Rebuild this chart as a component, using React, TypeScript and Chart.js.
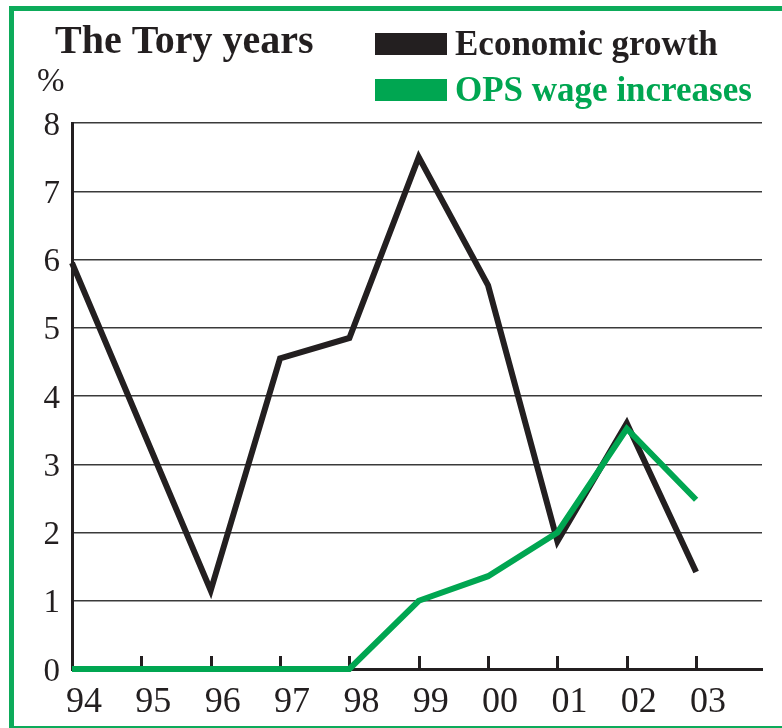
import React, { useEffect, useRef } from "react";
import { Chart, registerables } from "chart.js";

Chart.register(...registerables);

// ---- data ----
const years = ["94", "95", "96", "97", "98", "99", "00", "01", "02", "03"];
const economicGrowth = [5.95, 3.55, 1.15, 4.55, 4.85, 7.5, 5.62, 1.87, 3.6, 1.42];
const opsWageIncreases = [0, 0, 0, 0, 0, 1.0, 1.36, 2.0, 3.52, 2.48];
const yMin = 0;
const yMax = 8;
const titleText = "The Tory years";
const unitLabel = "%";
const seriesNames = ["Economic growth", "OPS wage increases"];

// ---- styles ----
const DARK = "#231f20";
const GREEN = "#00a651";
const SERIF = "'Liberation Serif', 'Times New Roman', serif";

const decorPlugin = {
  id: "decor",
  beforeDatasetsDraw(chart: any) {
    const ctx = chart.ctx;
    const xs = chart.scales.x;
    const area = chart.chartArea;
    ctx.save();
    ctx.strokeStyle = DARK;
    ctx.lineWidth = 3;
    years.forEach((_, i) => {
      if (i === 0) return;
      const px = Math.round(xs.getPixelForValue(i)) + 0.5;
      ctx.beginPath();
      ctx.moveTo(px, area.bottom);
      ctx.lineTo(px, area.bottom - 13);
      ctx.stroke();
    });
    ctx.restore();
  },
  afterDraw(chart: any) {
    const ctx = chart.ctx;
    ctx.save();
    ctx.textAlign = "left";
    ctx.textBaseline = "alphabetic";
    // title
    ctx.fillStyle = DARK;
    ctx.font = `bold 40px ${SERIF}`;
    ctx.fillText(titleText, 55, 53);
    // unit
    ctx.font = `33px ${SERIF}`;
    ctx.fillText(unitLabel, 37, 91);
    // legend
    const colors = [DARK, GREEN];
    const rows = [33, 79];
    ctx.font = `bold 35px ${SERIF}`;
    seriesNames.forEach((name, i) => {
      ctx.fillStyle = colors[i];
      ctx.fillRect(375, rows[i], 72, 22);
      ctx.fillText(name, 455, rows[i] + 22);
    });
    ctx.restore();
  },
};

function ToryChart() {
  const ref = useRef<HTMLCanvasElement | null>(null);
  useEffect(() => {
    if (!ref.current) return;
    const chart = new Chart(ref.current, {
      type: "line",
      data: {
        datasets: [
          {
            label: seriesNames[0],
            data: economicGrowth.map((v, i) => ({ x: i, y: v })),
            borderColor: DARK,
            backgroundColor: DARK,
            borderWidth: 6,
            pointRadius: 0,
            tension: 0,
            borderJoinStyle: "miter",
            clip: false,
            order: 1,
          },
          {
            label: seriesNames[1],
            data: opsWageIncreases.map((v, i) => ({ x: i, y: v })),
            borderColor: GREEN,
            backgroundColor: GREEN,
            borderWidth: 6,
            pointRadius: 0,
            tension: 0,
            borderJoinStyle: "miter",
            clip: false,
            order: 0,
          },
        ],
      },
      options: {
        responsive: false,
        animation: false,
        layout: { padding: { top: 123, right: 20, bottom: 0, left: 0 } },
        plugins: {
          legend: { display: false },
          title: { display: false },
          tooltip: { enabled: false },
        },
        scales: {
          x: {
            type: "linear",
            min: 0,
            max: 9.95,
            grid: { display: false },
            border: { display: true, color: DARK, width: 3 },
            afterFit: (s: any) => {
              s.height = 59;
            },
            ticks: {
              stepSize: 1,
              includeBounds: false,
              autoSkip: false,
              maxRotation: 0,
              padding: 4,
              labelOffset: 12,
              color: DARK,
              font: { family: SERIF, size: 36 },
              callback: (v: any) => years[v] ?? "",
            },
          },
          y: {
            min: yMin,
            max: yMax,
            grid: { color: "#3a3a3a", lineWidth: 1.5, drawTicks: false },
            border: { display: true, color: DARK, width: 3 },
            afterFit: (s: any) => {
              s.width = 72;
            },
            ticks: {
              stepSize: 1,
              padding: 12,
              labelOffset: 3,
              color: DARK,
              font: { family: SERIF, size: 33 },
            },
          },
        },
      },
      plugins: [decorPlugin],
    });
    return () => chart.destroy();
  }, []);
  return (
    <canvas
      ref={ref}
      width={782}
      height={728}
      style={{ position: "absolute", left: 0, top: 0, width: 782, height: 728 }}
    />
  );
}

export default function App() {
  return (
    <div
      style={{
        position: "fixed",
        left: 0,
        top: 0,
        width: 782,
        height: 728,
        overflow: "hidden",
        background: "#ffffff",
      }}
    >
      <div
        style={{
          position: "absolute",
          left: 9,
          top: 6,
          width: 800,
          height: 715,
          border: `5px solid ${GREEN}`,
          opacity: 0.95,
        }}
      />
      <ToryChart />
    </div>
  );
}
